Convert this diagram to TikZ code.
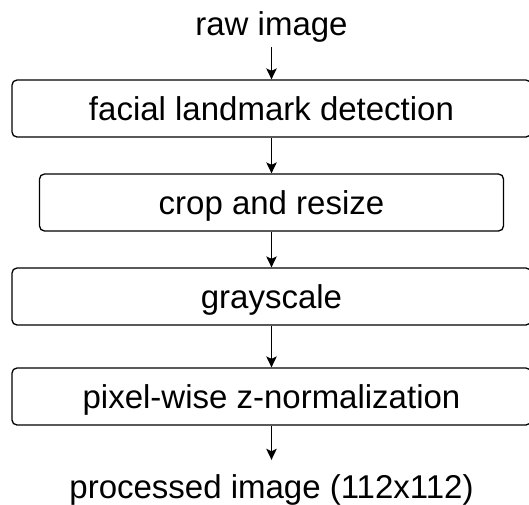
\documentclass[tikz,border=0pt]{standalone}
\usepackage{fontspec}
\setmainfont{Liberation Sans}
\usetikzlibrary{arrows.meta}
\begin{document}
\begin{tikzpicture}[x=1pt,y=1pt,
  font=\fontsize{33}{40}\selectfont,
  stage/.style={draw=black, line width=1.3pt, rounded corners=5pt,
    minimum height=57pt, inner sep=0pt, text height=24pt, text depth=0pt},
  label/.style={inner sep=0pt, text height=24pt, text depth=7pt},
  arr/.style={draw=black, line width=1.3pt,
    -{Stealth[length=11pt,width=10.5pt,inset=2.5pt]}}]
  \useasboundingbox (0,0) rectangle (529,-504);
  % input / output labels
  \node[label, anchor=base] (raw) at (271.5,-35) {raw image};
  \node[label, anchor=base] (out) at (271.5,-498) {processed image (112x112)};
  % processing stages
  \node[stage, minimum width=519pt] (land) at (271.5,-108.5) {facial landmark detection};
  \node[stage, minimum width=464pt] (crop) at (271.5,-202.5) {crop and resize};
  \node[stage, minimum width=519pt] (gray) at (271.5,-296.5) {grayscale};
  \node[stage, minimum width=519pt] (norm) at (271.5,-396.5) {pixel-wise z-normalization};
  % flow
  \draw[arr, shorten <=5pt] (raw.south) -- (land.north);
  \draw[arr] (land.south) -- (crop.north);
  \draw[arr] (crop.south) -- (gray.north);
  \draw[arr] (gray.south) -- (norm.north);
  \draw[arr, shorten >=14pt] (norm.south) -- (out.north);
\end{tikzpicture}
\end{document}
